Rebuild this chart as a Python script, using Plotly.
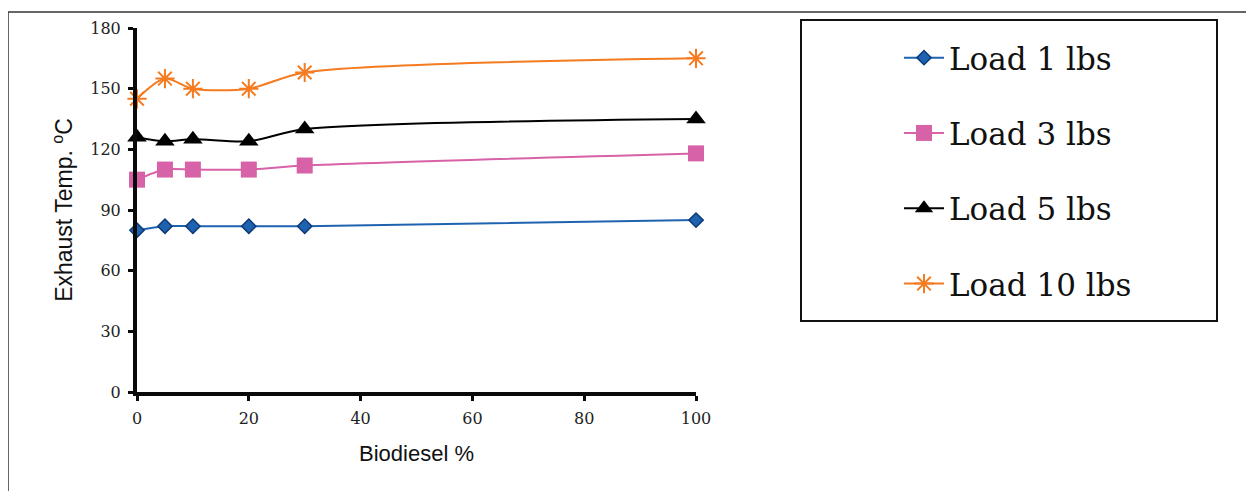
import plotly.graph_objects as go

biodiesel = [0, 5, 10, 20, 30, 100]
load1 = [80, 82, 82, 82, 82, 85]
load3 = [105, 110, 110, 110, 112, 118]
load5 = [126, 124, 125, 124, 130, 135]
load10 = [145, 155, 150, 150, 158, 165]
names = ["Load 1 lbs", "Load 3 lbs", "Load 5 lbs", "Load 10 lbs"]
x_ticks = [0, 20, 40, 60, 80, 100]
y_ticks = [0, 30, 60, 90, 120, 150, 180]

# page body has an 8px margin; work in reference-pixel coordinates and shift
OFF = 8
W, H = 1254 - OFF, 491 - OFF
L, R, T, B = 137 - OFF, 696 - OFF, 28 - OFF, 392 - OFF

def px_x(p):
    return (p - OFF - L) / (R - L)

def px_y(p):
    return (B - (p - OFF)) / (B - T)

styles = [
    dict(color="#1f63b0", marker=dict(symbol="diamond", size=11, color="#1f63b0",
                                      line=dict(color="#0b3a78", width=1.5))),
    dict(color="#d862a8", marker=dict(symbol="square", size=16, color="#d862a8",
                                      line=dict(width=0))),
    dict(color="#000000", marker=dict(symbol="triangle-up", size=17, color="#000000",
                                      line=dict(width=0))),
    dict(color="#f47b20", marker=dict(symbol="asterisk-open", size=16,
                                      line=dict(color="#f47b20", width=2))),
]

fig = go.Figure()
for i, (ys, nm) in enumerate(zip([load1, load3, load5, load10], names)):
    st = styles[i]
    fig.add_trace(go.Scatter(
        x=biodiesel, y=ys, name=nm, mode="lines+markers",
        line=dict(color=st["color"], width=2, shape="spline", smoothing=0.8),
        marker=st["marker"], cliponaxis=False, legendgroup=nm,
    ))

axis_font = dict(family="DejaVu Serif", size=16, color="#222")
title_font = dict(family="Liberation Sans, Arial", size=22, color="#111")

fig.update_layout(
    width=W, height=H,
    paper_bgcolor="white", plot_bgcolor="white",
    margin=dict(l=L, r=W - R, t=T, b=H - B, autoexpand=False),
    showlegend=True,
    legend=dict(
        x=px_x(899), y=px_y(31), xanchor="left", yanchor="top",
        font=dict(family="DejaVu Serif", size=31, color="#111"),
        bgcolor="rgba(0,0,0,0)", borderwidth=0,
        tracegroupgap=32, itemwidth=40,
    ),
    xaxis=dict(
        range=[0, 100], tickvals=x_ticks, showgrid=False, zeroline=False,
        showline=True, linecolor="#0a0a0a", linewidth=4,
        ticks="outside", ticklen=5, tickwidth=3, tickcolor="#0a0a0a",
        tickfont=axis_font, ticklabelstandoff=4,
        title=dict(text="Biodiesel %", font=title_font, standoff=19),
    ),
    yaxis=dict(
        range=[0, 180], tickvals=y_ticks, showgrid=False, zeroline=False,
        showline=True, linecolor="#0a0a0a", linewidth=4,
        ticks="outside", ticklen=5, tickwidth=3, tickcolor="#0a0a0a",
        tickfont=axis_font, ticklabelstandoff=4,
        title=dict(text="Exhaust Temp. <sup>o</sup>C",
                   font=dict(family="Liberation Sans, Arial", size=23, color="#111"),
                   standoff=12),
    ),
    shapes=[
        # outer frame (top and left edges)
        dict(type="line", xref="paper", yref="paper",
             x0=px_x(8), x1=px_x(1260), y0=px_y(12), y1=px_y(12),
             line=dict(color="#333", width=1.5)),
        dict(type="line", xref="paper", yref="paper",
             x0=px_x(8), x1=px_x(8), y0=px_y(12), y1=px_y(500),
             line=dict(color="#333", width=1.5)),
        # legend box
        dict(type="rect", xref="paper", yref="paper",
             x0=px_x(801), x1=px_x(1217), y0=px_y(20), y1=px_y(321),
             line=dict(color="#111", width=2)),
    ],
)

fig.write_html("out.html")
